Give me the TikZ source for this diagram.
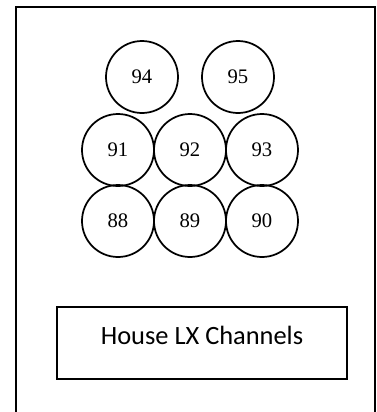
\documentclass[tikz,border=0pt]{standalone}
\usepackage{fontspec}
\setmainfont{Liberation Serif}
\newfontfamily\boxfont{Carlito}
\usetikzlibrary{calc}

\tikzset{
  chan/.style={draw, circle, line width=1.3pt, minimum size=54pt, inner sep=0pt,
    font=\fontsize{15.5}{18}\selectfont},
  labelbox/.style={draw, line width=1.3pt, minimum width=217.5pt, text height=27.75pt,
    text depth=26.25pt, inner sep=0pt, font=\boxfont\fontsize{19.8}{22}\selectfont}
}

\begin{document}
\begin{tikzpicture}[x=0.75pt, y=-0.75pt]
    \clip (0,0) rectangle (377,412);
    \draw[line width=1.5pt] (16,7) rectangle (375,440);
    % top row
    \node[chan] (c94) at (142,77) {94};
    \node[chan] (c95) at (238,77) {95};
    % middle and bottom rows
    \foreach \n [count=\i from 0] in {91, 92, 93}
    {
      \node[chan] (c\n) at ({118+\i*72},150) {\n};
    }
    \foreach \n [count=\i from 0] in {88, 89, 90}
    {
      \node[chan] (c\n) at ({118+\i*72},221) {\n};
    }
    \node[labelbox] (house) at (202,343) {House LX Channels};
  \end{tikzpicture}
\end{document}
